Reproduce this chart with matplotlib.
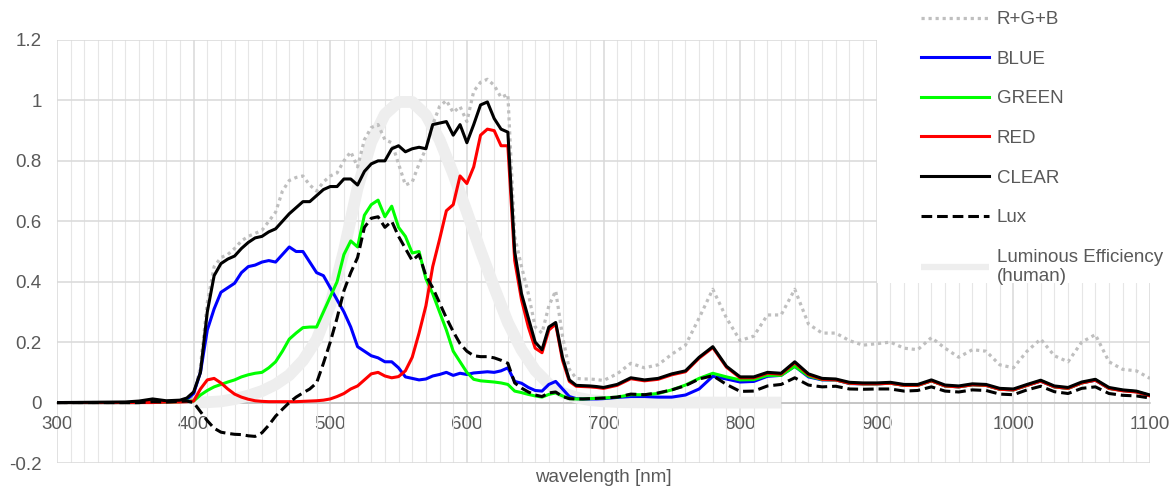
import matplotlib.pyplot as plt
from matplotlib.lines import Line2D
from matplotlib.patches import Rectangle
from matplotlib.ticker import MultipleLocator, FuncFormatter

# wavelength grid [nm]
wl = [300, 350, 360, 370, 380, 390, 395,
      400, 405, 410, 415, 420, 425, 430, 435, 440, 445, 450, 455, 460, 465, 470, 475, 480, 485, 490, 495,
      500, 505, 510, 515, 520, 525, 530, 535, 540, 545, 550, 555, 560, 565, 570, 575, 580, 585, 590, 595,
      600, 605, 610, 615, 620, 625, 630, 635, 640, 645, 650, 655, 660, 665, 670, 675, 680, 685, 690, 695, 700,
      710, 720, 730, 740, 750, 760, 770, 780, 790, 800,
      810, 820, 830, 840, 850, 860, 870, 880, 890, 900,
      910, 920, 930, 940, 950, 960, 970, 980, 990, 1000,
      1010, 1020, 1030, 1040, 1050, 1060, 1070, 1080, 1090, 1100]

rgb_sum = [0, 0, 0, 0.003, 0.003, 0.005, 0.01,
           0.02, 0.12, 0.33, 0.45, 0.48, 0.49, 0.51, 0.535, 0.55, 0.56, 0.57, 0.60, 0.63, 0.70, 0.735, 0.745, 0.75, 0.72, 0.70, 0.73,
           0.75, 0.76, 0.80, 0.83, 0.78, 0.87, 0.91, 0.92, 0.87, 0.86, 0.79, 0.72, 0.73, 0.79, 0.84, 0.92, 0.98, 1.0, 0.96, 0.98,
           0.93, 1.03, 1.06, 1.07, 1.05, 1.01, 1.02, 0.55, 0.45, 0.36, 0.25, 0.23, 0.32, 0.37, 0.22, 0.11, 0.08, 0.078, 0.078, 0.076, 0.073,
           0.095, 0.13, 0.115, 0.125, 0.16, 0.19, 0.28, 0.375, 0.28, 0.205,
           0.22, 0.29, 0.29, 0.375, 0.26, 0.23, 0.23, 0.205, 0.19, 0.195,
           0.20, 0.18, 0.175, 0.215, 0.18, 0.15, 0.175, 0.17, 0.125, 0.115,
           0.17, 0.21, 0.155, 0.135, 0.2, 0.225, 0.135, 0.11, 0.105, 0.08]

blue = [0, 0, 0, 0.003, 0.002, 0.005, 0.01,
        0.03, 0.10, 0.24, 0.31, 0.365, 0.38, 0.395, 0.43, 0.45, 0.455, 0.465, 0.47, 0.465, 0.49, 0.515, 0.50, 0.50, 0.465, 0.43, 0.42,
        0.38, 0.34, 0.30, 0.25, 0.185, 0.17, 0.155, 0.148, 0.135, 0.135, 0.115, 0.085, 0.08, 0.075, 0.078, 0.088, 0.093, 0.10, 0.09, 0.097,
        0.093, 0.098, 0.10, 0.102, 0.10, 0.105, 0.115, 0.07, 0.064, 0.05, 0.04, 0.038, 0.06, 0.07, 0.045, 0.02, 0.013, 0.012, 0.012, 0.012, 0.013,
        0.017, 0.02, 0.02, 0.018, 0.018, 0.025, 0.045, 0.087, 0.078, 0.068,
        0.07, 0.087, 0.09, 0.12, 0.085, 0.075, 0.075, 0.063, 0.062, 0.062,
        0.064, 0.057, 0.057, 0.072, 0.055, 0.052, 0.059, 0.057, 0.044, 0.042,
        0.057, 0.071, 0.052, 0.047, 0.065, 0.074, 0.047, 0.04, 0.036, 0.023]

green = [0, 0, 0, 0.002, 0.002, 0.003, 0.005,
         0.005, 0.025, 0.04, 0.052, 0.06, 0.068, 0.075, 0.085, 0.092, 0.097, 0.10, 0.115, 0.135, 0.17, 0.21, 0.23, 0.248, 0.25, 0.25, 0.30,
         0.35, 0.40, 0.49, 0.535, 0.515, 0.62, 0.655, 0.67, 0.615, 0.65, 0.58, 0.55, 0.495, 0.50, 0.41, 0.36, 0.30, 0.24, 0.17, 0.135,
         0.10, 0.077, 0.072, 0.07, 0.068, 0.065, 0.06, 0.038, 0.033, 0.027, 0.022, 0.018, 0.027, 0.032, 0.022, 0.013, 0.012, 0.012, 0.013, 0.014, 0.015,
         0.018, 0.026, 0.026, 0.03, 0.042, 0.058, 0.08, 0.097, 0.085, 0.075,
         0.076, 0.09, 0.09, 0.12, 0.088, 0.076, 0.075, 0.064, 0.062, 0.062,
         0.064, 0.057, 0.057, 0.072, 0.055, 0.052, 0.059, 0.057, 0.044, 0.042,
         0.057, 0.072, 0.052, 0.047, 0.065, 0.075, 0.047, 0.04, 0.036, 0.023]

red = [0, 0, 0, 0, 0.002, 0.002, 0.003,
       0.005, 0.045, 0.075, 0.08, 0.065, 0.045, 0.028, 0.018, 0.011, 0.006, 0.004, 0.003, 0.003, 0.003, 0.003, 0.003, 0.004, 0.005, 0.006, 0.008,
       0.012, 0.02, 0.03, 0.045, 0.055, 0.075, 0.095, 0.10, 0.088, 0.082, 0.086, 0.105, 0.15, 0.23, 0.32, 0.45, 0.54, 0.635, 0.655, 0.75,
       0.725, 0.78, 0.885, 0.905, 0.90, 0.85, 0.85, 0.47, 0.34, 0.25, 0.18, 0.165, 0.24, 0.26, 0.14, 0.07, 0.054, 0.053, 0.052, 0.05, 0.047,
       0.057, 0.079, 0.072, 0.077, 0.092, 0.102, 0.147, 0.182, 0.117, 0.082,
       0.082, 0.097, 0.094, 0.132, 0.092, 0.077, 0.075, 0.064, 0.062, 0.062,
       0.064, 0.057, 0.057, 0.072, 0.055, 0.052, 0.059, 0.057, 0.044, 0.042,
       0.057, 0.071, 0.052, 0.047, 0.065, 0.074, 0.047, 0.039, 0.035, 0.022]

clear = [0, 0.002, 0.005, 0.012, 0.006, 0.008, 0.015,
         0.035, 0.10, 0.30, 0.42, 0.46, 0.475, 0.485, 0.51, 0.53, 0.545, 0.55, 0.565, 0.575, 0.60, 0.625, 0.645, 0.665, 0.665, 0.685, 0.705,
         0.715, 0.715, 0.74, 0.74, 0.72, 0.765, 0.79, 0.80, 0.80, 0.84, 0.85, 0.83, 0.84, 0.845, 0.84, 0.92, 0.925, 0.93, 0.885, 0.92,
         0.86, 0.92, 0.985, 0.995, 0.94, 0.905, 0.895, 0.50, 0.36, 0.28, 0.20, 0.175, 0.25, 0.265, 0.15, 0.075, 0.057, 0.056, 0.055, 0.053, 0.05,
         0.06, 0.082, 0.075, 0.08, 0.095, 0.105, 0.15, 0.185, 0.12, 0.085,
         0.085, 0.10, 0.097, 0.135, 0.095, 0.08, 0.078, 0.067, 0.065, 0.065,
         0.067, 0.06, 0.06, 0.075, 0.058, 0.055, 0.062, 0.06, 0.047, 0.045,
         0.06, 0.074, 0.055, 0.05, 0.068, 0.077, 0.05, 0.042, 0.038, 0.025]

lux = [0, 0, 0, 0.003, 0.002, 0.004, 0.005,
       0.0, -0.03, -0.06, -0.085, -0.098, -0.102, -0.105, -0.106, -0.11, -0.112, -0.1, -0.075, -0.045, -0.022, 0.0, 0.018, 0.032, 0.045, 0.065, 0.13,
       0.2, 0.28, 0.37, 0.43, 0.48, 0.58, 0.61, 0.615, 0.58, 0.60, 0.55, 0.51, 0.47, 0.49, 0.42, 0.38, 0.33, 0.28, 0.235, 0.195,
       0.17, 0.155, 0.152, 0.152, 0.148, 0.14, 0.13, 0.065, 0.048, 0.035, 0.025, 0.02, 0.032, 0.035, 0.02, 0.013, 0.012, 0.012, 0.013, 0.014, 0.015,
       0.018, 0.028, 0.026, 0.032, 0.042, 0.056, 0.078, 0.089, 0.06, 0.037,
       0.038, 0.055, 0.06, 0.082, 0.058, 0.052, 0.054, 0.045, 0.044, 0.045,
       0.045, 0.038, 0.04, 0.052, 0.038, 0.035, 0.042, 0.04, 0.028, 0.026,
       0.042, 0.054, 0.036, 0.03, 0.047, 0.052, 0.03, 0.024, 0.022, 0.015]

# photopic luminous efficiency (human eye)
lum_wl = [400, 410, 420, 430, 440, 450, 460, 470, 480, 490, 500, 510, 520, 530, 540, 550, 560, 570, 580, 590,
          600, 610, 620, 630, 640, 650, 660, 670, 680, 690, 700, 710, 720, 730, 740, 750, 760, 770, 780, 790,
          800, 810, 820, 830]
lum = [0.0004, 0.0012, 0.004, 0.0116, 0.023, 0.038, 0.06, 0.091, 0.139, 0.208, 0.323, 0.503, 0.71, 0.862, 0.954,
       0.995, 0.995, 0.952, 0.87, 0.757, 0.631, 0.503, 0.381, 0.265, 0.175, 0.107, 0.061, 0.032, 0.017, 0.0082,
       0.0041, 0.0021, 0.001, 0.0005, 0.00025, 0.00012, 0.00006, 0.00003, 0.000015, 0, 0, 0, 0, 0]

plt.rcParams['font.family'] = ['Liberation Sans', 'DejaVu Sans']
txt = '#595959'
fs = 13.5

fig = plt.figure(figsize=(11.76, 4.91), dpi=100)
W, H = 1176, 491
ax = fig.add_axes([57 / W, 1 - 463 / H, (1150 - 57) / W, (463 - 40) / H])

ax.plot(lum_wl, lum, color='#EEEEEE', lw=8.5, solid_capstyle='butt', zorder=1.6)
ax.plot(wl, rgb_sum, color='#BFBFBF', lw=2.3, linestyle=(0, (1, 1.2)), zorder=2)
ax.plot(wl, blue, color='#0000FF', lw=2.2, zorder=2.1)
ax.plot(wl, green, color='#00FF00', lw=2.2, zorder=2.2)
ax.plot(wl, red, color='#FF0000', lw=2.2, zorder=2.3)
ax.plot(wl, clear, color='black', lw=2.2, zorder=2.4)
ax.plot(wl, lux, color='black', lw=2.2, linestyle=(0, (3.5, 1.6)), zorder=2.5)

ax.set_xlim(300, 1100)
ax.set_ylim(-0.2, 1.2)
ax.xaxis.set_major_locator(MultipleLocator(100))
ax.xaxis.set_minor_locator(MultipleLocator(10))
ax.yaxis.set_major_locator(MultipleLocator(0.2))
ax.yaxis.set_major_formatter(FuncFormatter(lambda v, p: '%g' % round(v, 1)))

ax.set_axisbelow(True)
ax.grid(which='major', color='#D9D9D9', lw=1.1)
ax.grid(which='minor', axis='x', color='#E6E6E6', lw=0.8)

for s in ['top', 'right', 'left']:
    ax.spines[s].set_visible(False)
ax.spines['bottom'].set_position(('data', 0))
ax.spines['bottom'].set_color('#BFBFBF')
ax.spines['bottom'].set_linewidth(1.1)
ax.spines['bottom'].set_zorder(1.5)

ax.tick_params(axis='both', which='both', length=0, labelsize=fs, labelcolor=txt)
ax.tick_params(axis='x', pad=10)
ax.tick_params(axis='y', pad=11)

fig.text(603.5 / W, 1 - 478 / H, 'wavelength [nm]', ha='center', va='center', fontsize=fs, color=txt)

# white box behind the legend hides the grid there
ax.add_patch(Rectangle((877 / W, 1 - 283 / H), 1, 1, transform=fig.transFigure,
                       facecolor='white', edgecolor='none', zorder=1.55, clip_on=False))

handles = [
    Line2D([], [], color='#BFBFBF', lw=2.3, linestyle=(0, (1, 1.2))),
    Line2D([], [], color='#0000FF', lw=2.2),
    Line2D([], [], color='#00FF00', lw=2.2),
    Line2D([], [], color='#FF0000', lw=2.2),
    Line2D([], [], color='black', lw=2.2),
    Line2D([], [], color='black', lw=2.2, linestyle=(0, (3.5, 1.6))),
    Line2D([], [], color='#EEEEEE', lw=4.5, solid_capstyle='butt'),
]
labels = ['R+G+B', 'BLUE', 'GREEN', 'RED', 'CLEAR', 'Lux', 'Luminous Efficiency\n(human)']
leg = fig.legend(handles, labels, loc='upper left', bbox_to_anchor=(921 / W, 1 - 11 / H),
                 frameon=False, borderpad=0, borderaxespad=0, fontsize=fs,
                 handlelength=3.6, handletextpad=0.45, labelspacing=1.2, labelcolor=txt)

fig.savefig('out.png', dpi=100)
